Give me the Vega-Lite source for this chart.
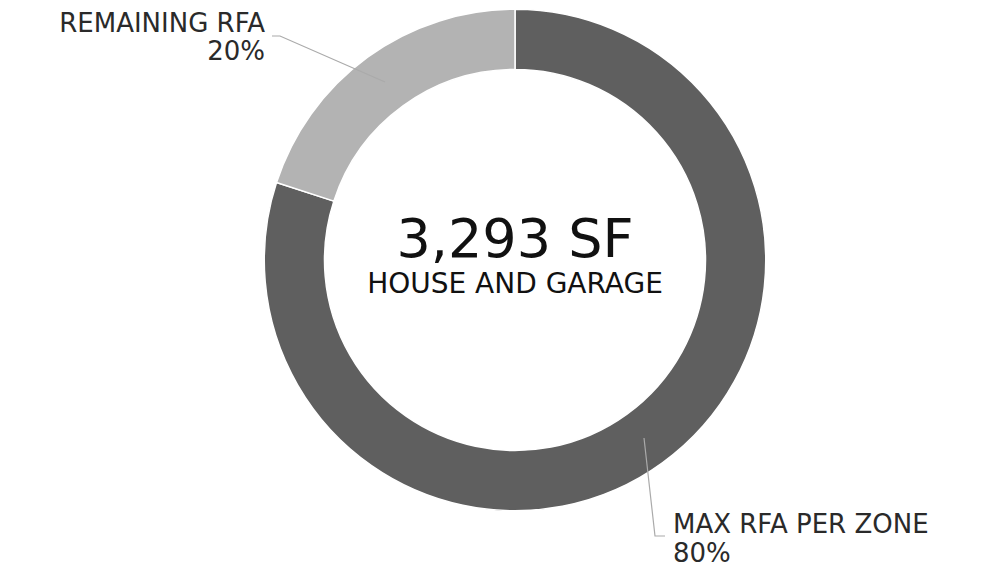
{
  "$schema": "https://vega.github.io/schema/vega-lite/v6.json",
  "width": 964,
  "height": 520,
  "autosize": "none",
  "padding": {"left": 33, "top": 0, "right": 0, "bottom": 47},
  "background": "white",
  "config": {"view": {"stroke": null}},
  "datasets": {
    "slices": [
      {"category": "MAX RFA PER ZONE", "value": 80, "order": 1},
      {"category": "REMAINING RFA", "value": 20, "order": 2}
    ],
    "leaders": [
      {"id": "remaining", "step": 1, "x": -0.52, "y": 0.712},
      {"id": "remaining", "step": 2, "x": -0.94, "y": 0.896},
      {"id": "remaining", "step": 3, "x": -0.972, "y": 0.896},
      {"id": "max", "step": 1, "x": 0.516, "y": -0.712},
      {"id": "max", "step": 2, "x": 0.56, "y": -1.104},
      {"id": "max", "step": 3, "x": 0.6, "y": -1.104}
    ],
    "labels": [
      {"text": "REMAINING RFA", "x": -1.0, "y": 0.912, "kind": "right"},
      {"text": "20%", "x": -1.0, "y": 0.8, "kind": "right"},
      {"text": "MAX RFA PER ZONE", "x": 0.632, "y": -1.092, "kind": "left"},
      {"text": "80%", "x": 0.632, "y": -1.206, "kind": "left"}
    ],
    "center": [
      {"text": "3,293 SF", "x": 0, "y": 0.012, "kind": "big"},
      {"text": "HOUSE AND GARAGE", "x": 0, "y": -0.132, "kind": "sub"}
    ]
  },
  "layer": [
    {
      "data": {"name": "slices"},
      "mark": {"type": "arc", "outerRadius": 250.75, "innerRadius": 190.5, "stroke": "white", "strokeWidth": 1.5},
      "encoding": {
        "theta": {"field": "value", "type": "quantitative", "stack": true},
        "order": {"field": "order", "type": "quantitative"},
        "color": {
          "field": "category", "type": "nominal", "legend": null,
          "scale": {"domain": ["MAX RFA PER ZONE", "REMAINING RFA"], "range": ["#5f5f5f", "#b3b3b3"]}
        }
      }
    },
    {
      "data": {"name": "leaders"},
      "mark": {"type": "line", "color": "#aaaaaa", "strokeWidth": 1.2},
      "encoding": {
        "x": {"field": "x", "type": "quantitative", "scale": {"domain": [-1.928, 1.928]}, "axis": null},
        "y": {"field": "y", "type": "quantitative", "scale": {"domain": [-1.04, 1.04]}, "axis": null},
        "detail": {"field": "id"},
        "order": {"field": "step"}
      }
    },
    {
      "data": {"name": "labels"},
      "transform": [{"filter": "datum.kind == 'right'"}],
      "mark": {"type": "text", "align": "right", "baseline": "alphabetic", "font": "DejaVu Sans", "fontSize": 26, "color": "#2a2a2a"},
      "encoding": {
        "x": {"field": "x", "type": "quantitative", "scale": {"domain": [-1.928, 1.928]}, "axis": null},
        "y": {"field": "y", "type": "quantitative", "scale": {"domain": [-1.04, 1.04]}, "axis": null},
        "text": {"field": "text"}
      }
    },
    {
      "data": {"name": "labels"},
      "transform": [{"filter": "datum.kind == 'left'"}],
      "mark": {"type": "text", "align": "left", "baseline": "alphabetic", "font": "DejaVu Sans", "fontSize": 26, "color": "#2a2a2a"},
      "encoding": {
        "x": {"field": "x", "type": "quantitative", "scale": {"domain": [-1.928, 1.928]}, "axis": null},
        "y": {"field": "y", "type": "quantitative", "scale": {"domain": [-1.04, 1.04]}, "axis": null},
        "text": {"field": "text"}
      }
    },
    {
      "data": {"name": "center"},
      "mark": {"type": "text", "align": "center", "baseline": "alphabetic", "font": "DejaVu Sans", "color": "#111111"},
      "encoding": {
        "x": {"field": "x", "type": "quantitative", "scale": {"domain": [-1.928, 1.928]}, "axis": null},
        "y": {"field": "y", "type": "quantitative", "scale": {"domain": [-1.04, 1.04]}, "axis": null},
        "text": {"field": "text"},
        "size": {"field": "kind", "type": "nominal", "legend": null, "scale": {"domain": ["big", "sub"], "range": [54, 28]}}
      }
    }
  ]
}
